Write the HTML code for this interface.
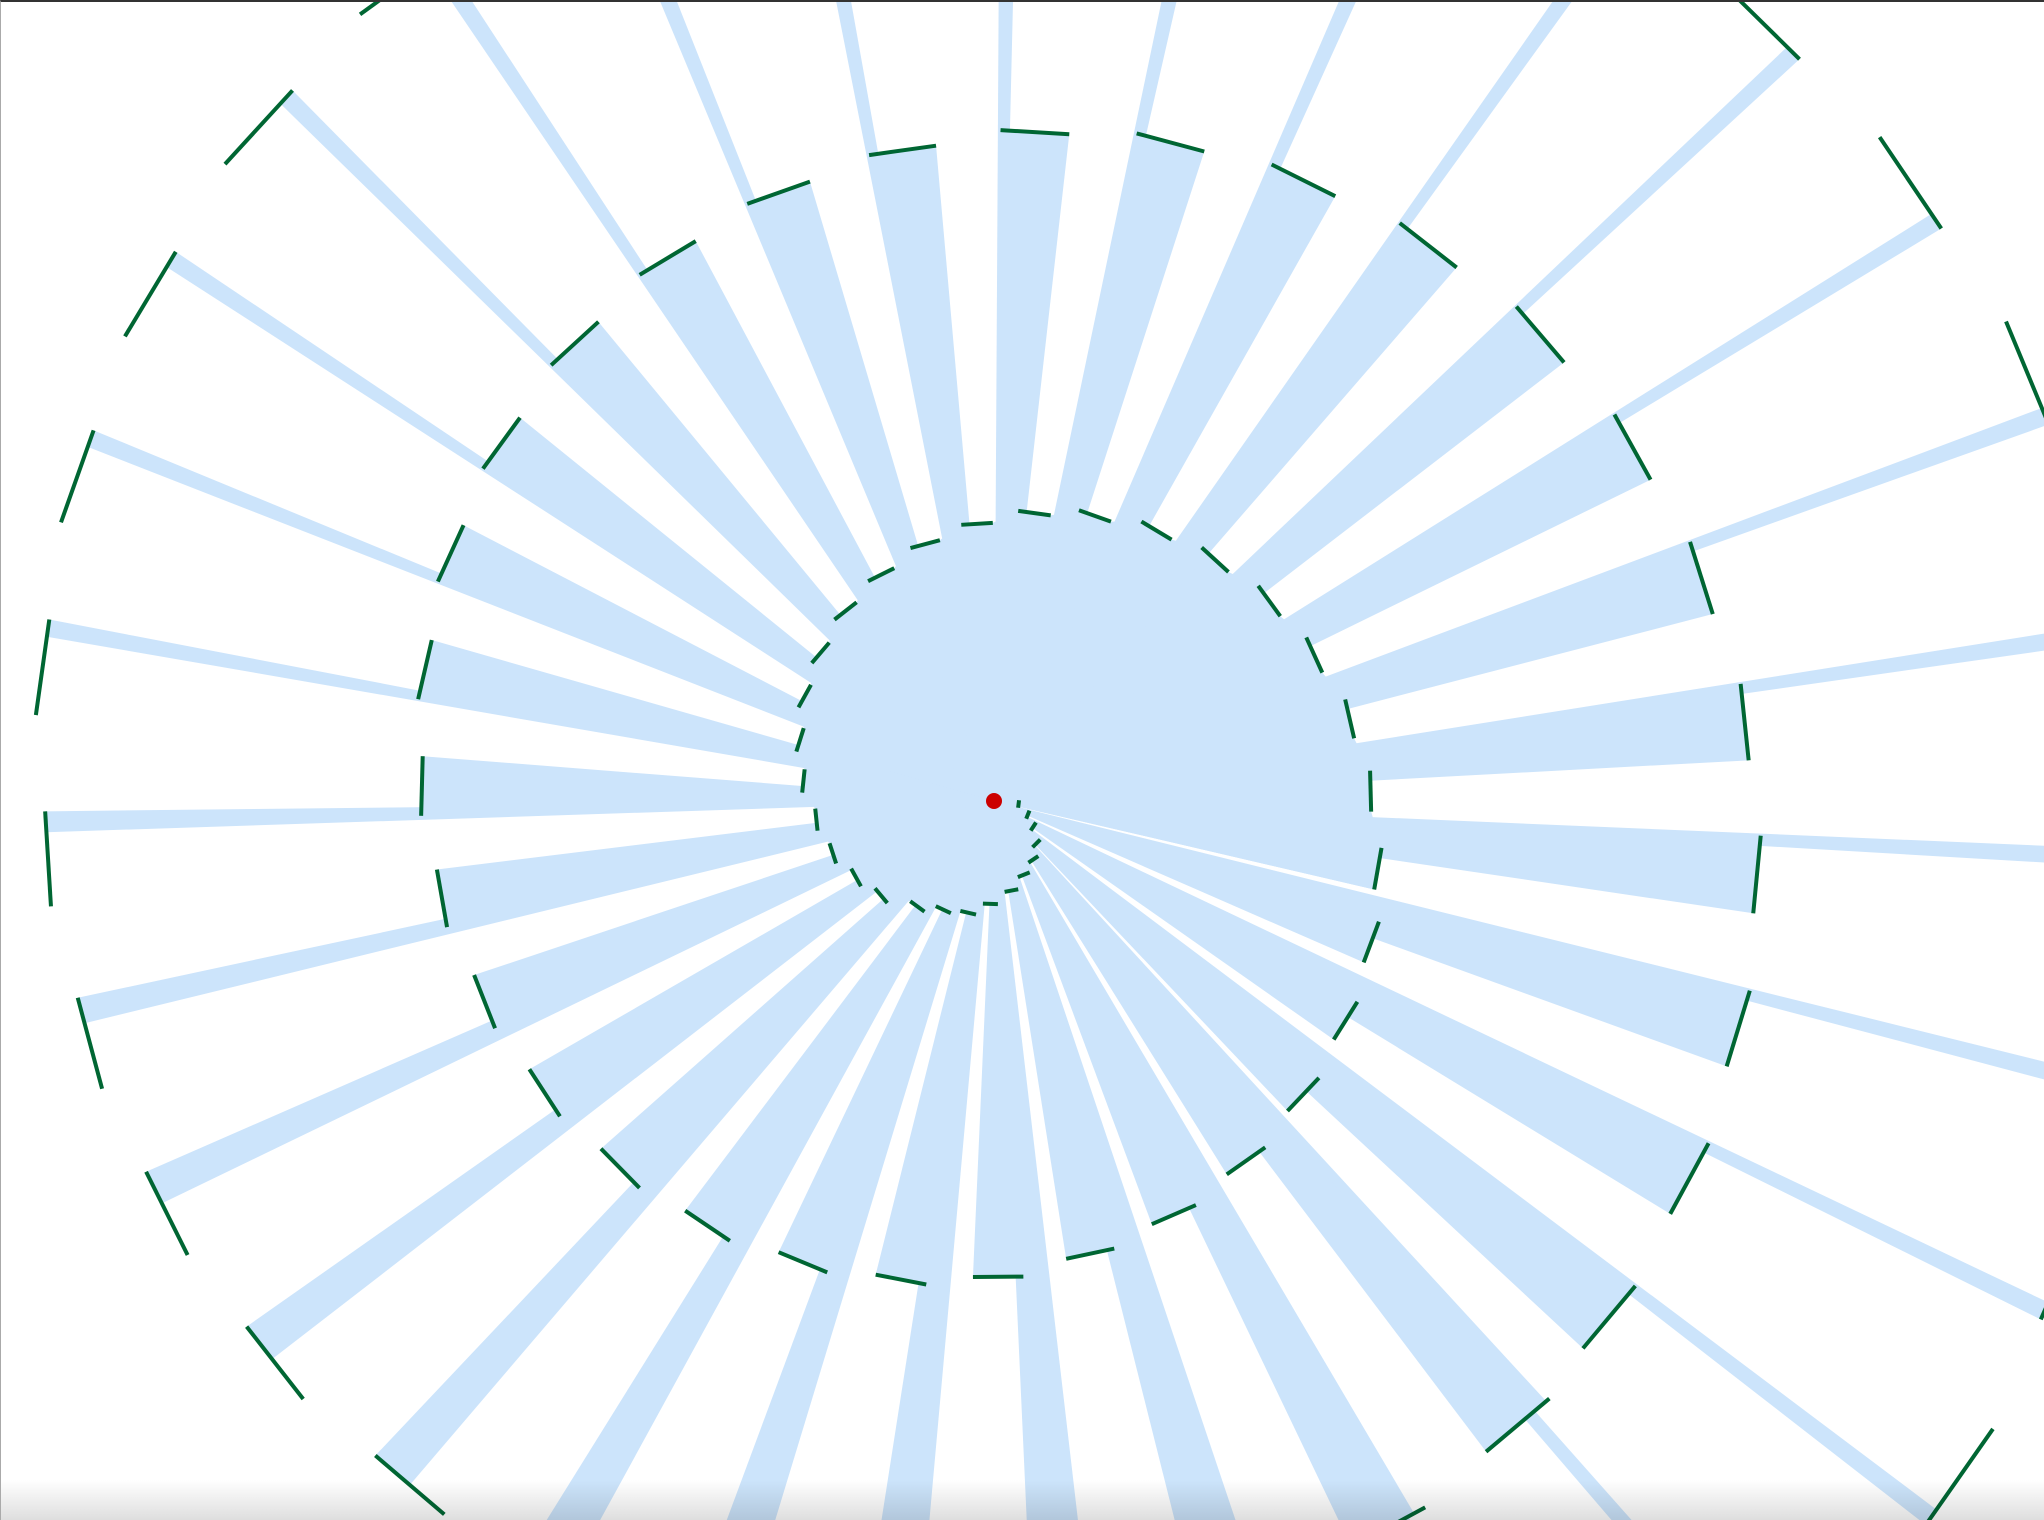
<!DOCTYPE html>
<html><head><meta charset="utf-8">
<style>
html,body{margin:0;padding:0;background:#fff;}
#wrap{position:relative;width:2044px;height:1520px;overflow:hidden;background:#fff;border-top:2px solid #333;box-sizing:border-box;border-left:1px solid #aaa;}
#shade{position:absolute;left:0;bottom:0;width:2044px;height:40px;background:linear-gradient(to bottom,rgba(0,0,0,0),rgba(0,0,0,0.13));}
</style></head>
<body>
<div id="wrap">
<svg id="chart" width="2044" height="1520"></svg>
<div id="shade"></div>
</div>
<script>
const angles=[7,22,33,45,56,68,79,92,103,115,126,140,151,162,174,186,197.5,209,220.5,232,243.5,255,266.5,278,289.5,301,312.5,324,335.5,347,358.5,370,
380.5,392,403.5,415,426.5,438,449.5,461,472.5,484,495.5,507,518.5,530,541.5,553,564.5,576,587.5,599,610.5,622,633.5,645,656.5,668,679.5,691,702.5,714,725.5,737,748.5,760,
770,781.5,793,804.5,816,827.5,839,850.5,862,873.5,885,896.5,908,919.5,931,942.5,954,965.5,977,988.5,1000,1011.5,1023,1034.5,1046,1057.5,1069,1080.5,1092,1103.5,1115,1126.5,1138,1149.5];
const radii=[19,28,36,46,54,61,70,79,88,92,100,113,121,130,137,147,156,166,175,185,194,204,213,223,232,242,251,261,270,280,289,299,
309,318,327,337,346,355,365,374,383,393,402,411,420,430,439,448,458,467,476,486,495,504,514,523,532,541,551,560,569,579,588,597,607,616,
625,634,644,653,662,672,681,690,700,709,718,727,737,746,755,765,774,783,793,802,811,820,830,839,848,858,867,876,886,895,904,914,923,932];
const wedgeFrac=[1,1,1,1,1,1,1,1,1,1,1,1,1,1,1,1,1,1,1,1,1,1,1,1,1,1,1,1,1,1,1,1,
1,1,1,1,1,1,1,1,1,1,1,1,1,1,1,1,1,1,1,1,1,1,1,1,1,1,1,1,1,1,1,1,1,1,
0.95,0.85,0.75,0.7,0.65,0.6,0.55,0.5,0.45,0.38,0.28,0.22,0.18,0.18,0.18,0.18,0.18,0.18,0.18,0.18,0.18,0.18,0.16,0.16,0.16,0.16,0.16,0.16,0.16,0.16,0.16,0.16,0.16,0.16];
const firstTurnEnd=370;

const CX=993, CY=799, S=1.3036;
const NS='http://www.w3.org/2000/svg';
const svg=document.getElementById('chart');
function px(r,a){const t=a*Math.PI/180;return [CX+r*S*Math.cos(t),CY+r*S*Math.sin(t)];}
function tickEnds(r,a){
  const len=(0.095*r+4)*S;
  const [x,y]=px(r,a);const t=a*Math.PI/180;
  const dx=-Math.sin(t)*len/2, dy=Math.cos(t)*len/2;
  return [[x-dx,y-dy],[x+dx,y+dy]];
}
let pts=[[CX,CY]];
for(let i=0;i<angles.length;i++){
  if(angles[i]>firstTurnEnd) break;
  const e=tickEnds(radii[i],angles[i]);pts.push(e[0],e[1]);
}
const core=document.createElementNS(NS,'polygon');
core.setAttribute('points',pts.map(p=>p.join(',')).join(' '));
core.setAttribute('fill','#cce4fb');


svg.appendChild(core);
for(let i=0;i<angles.length;i++){
  const e=tickEnds(radii[i],angles[i]);
  const f=wedgeFrac[i];
  const B=e[1], A=e[0];
  const P=[B[0]+(A[0]-B[0])*f, B[1]+(A[1]-B[1])*f];
  const p=document.createElementNS(NS,'polygon');
  p.setAttribute('points',[[CX,CY],P,B].map(q=>q.join(',')).join(' '));
  p.setAttribute('fill','#cce4fb');
  
  
  svg.appendChild(p);
}
for(let i=0;i<angles.length;i++){
  const e=tickEnds(radii[i],angles[i]);
  const l=document.createElementNS(NS,'line');
  l.setAttribute('x1',e[0][0]);l.setAttribute('y1',e[0][1]);
  l.setAttribute('x2',e[1][0]);l.setAttribute('y2',e[1][1]);
  l.setAttribute('stroke','#006633');
  l.setAttribute('stroke-width',4);
  
  
  svg.appendChild(l);
}
const dot=document.createElementNS(NS,'circle');
dot.setAttribute('cx',CX);dot.setAttribute('cy',CY);dot.setAttribute('r',8);
dot.setAttribute('fill','#cc0000');


svg.appendChild(dot);
</script>
</body></html>
